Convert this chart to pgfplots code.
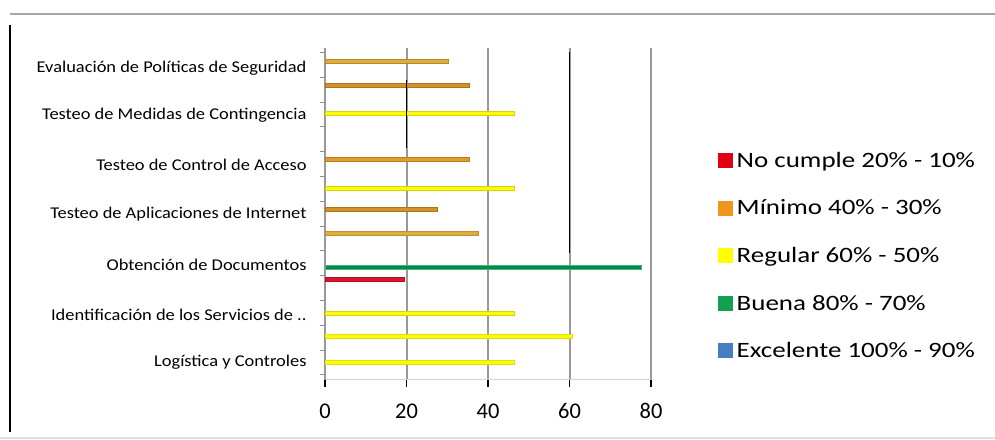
\documentclass[border=0pt]{standalone}
\usepackage{pgfplots}
\pgfplotsset{compat=1.18}
\usepackage{fontspec}
\setmainfont{Carlito}
\newfontfamily\legfont[FakeStretch=1.23]{Carlito}
\newfontfamily\catfont[FakeStretch=1.12]{Carlito}
\definecolor{orL}{RGB}{224,172,60}
\definecolor{orD}{RGB}{214,145,40}
\definecolor{orM}{RGB}{226,156,45}
\definecolor{yel}{RGB}{250,250,10}
\definecolor{grn}{RGB}{0,140,70}
\definecolor{rd}{RGB}{220,20,45}
\definecolor{legR}{RGB}{225,0,20}
\definecolor{legO}{RGB}{240,150,30}
\definecolor{legY}{RGB}{255,255,0}
\definecolor{legG}{RGB}{20,160,80}
\definecolor{legB}{RGB}{70,125,195}
\pgfplotsset{hb/.style={xbar, bar shift=0pt, bar width=4.5bp, forget plot}}
\begin{document}
\begin{tikzpicture}[x=1bp,y=1bp]
\path[use as bounding box] (0,0) rectangle (995,440);
\draw[gray!70, line width=1.5bp] (10,426) -- (995,426);
\draw[black, line width=2bp] (10,415) -- (10,8);
\draw[gray!25, line width=2bp] (0,2) -- (995,2);
\begin{axis}[
  at={(325bp,60bp)}, anchor=south west,
  scale only axis, width=326bp, height=332bp,
  xmin=0, xmax=80, ymin=0, ymax=332,
  clip=false,
  axis x line*=bottom, axis y line*=left,
  x axis line style={gray!35, line width=1bp},
  y axis line style={gray!80, line width=2.5bp},
  xtick={0,20,40,60,80},
  xmajorgrids, grid style={gray!80, line width=2bp},
  xtick align=outside, ytick align=outside,
  every major x tick/.style={black, line width=1.5bp},
  major tick length=7bp,
  every major y tick/.style={draw=none},
  minor ytick={5,29.8,54.6,79.4,104.2,129,153.8,178.6,203.4,228.2,253,277.8,302.6,327.4},
  every minor y tick/.style={gray!90, line width=1bp},
  minor tick length=5bp,
  ytick={18,65,115,166,215,265,312},
  yticklabels={Logística y Controles, Identificación de los Servicios de .., Obtención de Documentos, Testeo de Aplicaciones de Internet, Testeo de Control de Acceso, Testeo de Medidas de Contingencia, Evaluación de Políticas de Seguridad},
  yticklabel style={font=\catfont\fontsize{16.5}{18}\selectfont},
  y tick label style={xshift=-8bp},
  xticklabel style={font=\fontsize{22.5}{24}\selectfont, yshift=-13bp},
  /pgf/number format/assume math mode=true,
  legend image code/.code={\fill[#1, draw=none] (0bp,-7.5bp) rectangle (15bp,7.5bp);},
  legend style={at={(1.2055,0.693)}, anchor=north west, draw=none, fill=none,
    font=\legfont\fontsize{22}{24}\selectfont, row sep=27bp, inner sep=0pt,
    nodes={inner xsep=3.5bp}},
  legend cell align=left,
]
\addlegendimage{fill=legR}\addlegendentry{No cumple 20\% - 10\%}
\addlegendimage{fill=legO}\addlegendentry{Mínimo 40\% - 30\%}
\addlegendimage{fill=legY}\addlegendentry{Regular 60\% - 50\%}
\addlegendimage{fill=legG}\addlegendentry{Buena 80\% - 70\%}
\addlegendimage{fill=legB}\addlegendentry{Excelente 100\% - 90\%}
% Evaluación de Políticas de Seguridad
\addplot[hb, fill=orL, draw=orL!80!black] coordinates {(30.2,319)};
\addplot[hb, fill=orD, draw=orD!80!black] coordinates {(35.4,295)};
% Testeo de Medidas de Contingencia
\addplot[hb, fill=yel, draw=yel!85!black] coordinates {(46.4,267)};
% Testeo de Control de Acceso
\addplot[hb, fill=orM, draw=orM!80!black] coordinates {(35.4,221)};
\addplot[hb, fill=yel, draw=yel!85!black] coordinates {(46.4,192)};
% Testeo de Aplicaciones de Internet
\addplot[hb, fill=orD, draw=orD!80!black] coordinates {(27.6,171)};
\addplot[hb, fill=orL, draw=orL!85!black] coordinates {(37.6,147)};
% Obtención de Documentos
\addplot[hb, fill=grn, draw=grn!70!white] coordinates {(77.5,113)};
\addplot[hb, fill=rd, draw=rd!80!black] coordinates {(19.5,101)};
% Identificación de los Servicios
\addplot[hb, fill=yel, draw=yel!85!black] coordinates {(46.4,67)};
\addplot[hb, fill=yel, draw=yel!90!black] coordinates {(60.7,44)};
% Logística y Controles
\addplot[hb, fill=yel, draw=yel!90!black] coordinates {(46.4,18)};
% dark segments on gridlines as in the reference
\draw[black, line width=1.8bp] (axis cs:60,328) -- (axis cs:60,127);
\draw[black, line width=1.8bp] (axis cs:20,300) -- (axis cs:20,232);
\end{axis}
\end{tikzpicture}
\end{document}
